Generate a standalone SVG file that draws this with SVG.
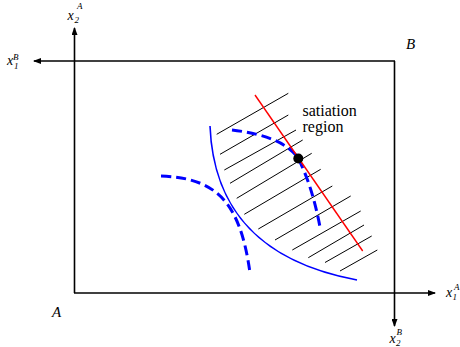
<svg xmlns="http://www.w3.org/2000/svg" width="460" height="347" viewBox="0 0 460 347">
<defs>
<style>
.ax{stroke:#000;stroke-width:1.6;fill:none}
.lab{font-style:italic;fill:#000}
.big{font-size:14px}
.sub{font-size:9px}
.txt{font-size:16px;fill:#000}
.hatch{stroke:#000;stroke-width:1;fill:none}
.dash{stroke:#0000ff;stroke-width:3;fill:none;stroke-dasharray:10 5}
</style>
<marker id="ah" markerWidth="8" markerHeight="6" refX="7" refY="3" orient="auto" markerUnits="userSpaceOnUse">
<path d="M0,0 L8,3 L0,6 Z" fill="#000"/>
</marker>
</defs>
<rect width="460" height="347" fill="#fff"/>
<g id="axes">
<line class="ax" x1="74.5" y1="293" x2="74.5" y2="28" marker-end="url(#ah)"/>
<line class="ax" x1="395" y1="61" x2="34" y2="61" marker-end="url(#ah)"/>
<line class="ax" x1="74" y1="293" x2="435" y2="293" marker-end="url(#ah)"/>
<line class="ax" x1="394.5" y1="61" x2="394.5" y2="326" marker-end="url(#ah)"/>
</g>
<g id="labels" font-family="Liberation Serif, DejaVu Serif, serif">
<text class="lab big" x="67.5" y="20">x</text><text class="lab sub" x="74.5" y="23">2</text><text class="lab sub" x="77" y="8.5">A</text>
<text class="lab big" x="7" y="65">x</text><text class="lab sub" x="14" y="69">1</text><text class="lab sub" x="13" y="59.5">B</text>
<text class="lab big" x="446" y="296.5">x</text><text class="lab sub" x="452.5" y="300">1</text><text class="lab sub" x="454" y="289.5">A</text>
<text class="lab big" x="389.5" y="342.5">x</text><text class="lab sub" x="396" y="346">2</text><text class="lab sub" x="396.5" y="335">B</text>
<text class="lab" font-size="15" x="406" y="49">B</text>
<text class="lab" font-size="15" x="52" y="317">A</text>
</g>
<g id="hatching">
<line class="hatch" x1="216.7" y1="134.3" x2="288.3" y2="93.3"/>
<line class="hatch" x1="220" y1="154.3" x2="288.3" y2="115"/>
<line class="hatch" x1="224.3" y1="170" x2="296" y2="130"/>
<line class="hatch" x1="230" y1="183.3" x2="302.7" y2="140"/>
<line class="hatch" x1="236.7" y1="198.3" x2="311.7" y2="153.3"/>
<line class="hatch" x1="244.3" y1="214.3" x2="320.7" y2="169.3"/>
<line class="hatch" x1="258.3" y1="229" x2="332.3" y2="186"/>
<line class="hatch" x1="275" y1="240" x2="350.7" y2="196"/>
<line class="hatch" x1="292.3" y1="250" x2="360.7" y2="211"/>
<line class="hatch" x1="308.3" y1="257.7" x2="364" y2="225"/>
<line class="hatch" x1="325" y1="262.5" x2="371.7" y2="236"/>
<line class="hatch" x1="340" y1="271" x2="377.3" y2="250"/>
</g>
<g id="curves">
<path d="M210,126 C213,200 250,260 357,280" stroke="#0000ff" stroke-width="1.6" fill="none"/>
<path class="dash" d="M161,176 C215,178 240,200 250,273"/>
<path class="dash" d="M232,130 Q283,136 298,158 Q312,185 320,227"/>
<line x1="255" y1="95" x2="362.7" y2="251" stroke="#ff0000" stroke-width="1.4"/>
</g>
<g id="satiation-point">
<circle cx="298.3" cy="158.5" r="5" fill="#000"/>
</g>
<g id="satiation-label" font-family="Liberation Serif, DejaVu Serif, serif">
<text class="txt" x="302.5" y="115.5">satiation</text>
<text class="txt" x="302.5" y="131.5">region</text>
</g>
</svg>
